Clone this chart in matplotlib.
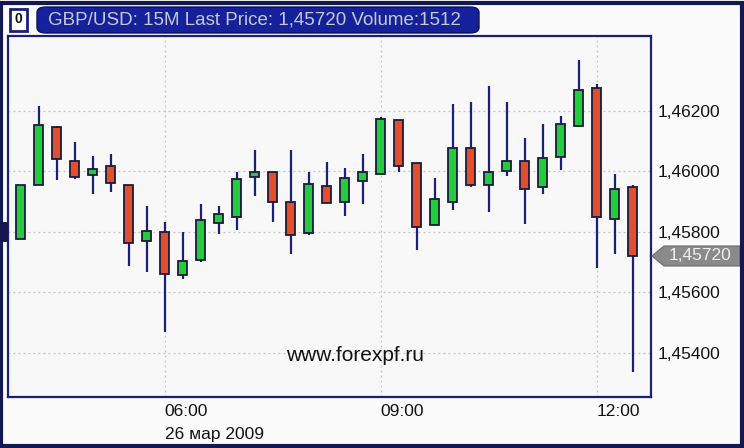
import pandas as pd
import matplotlib.pyplot as plt
from matplotlib.patches import FancyBboxPatch, Rectangle, Polygon

# 15-minute GBP/USD candles, 26 Mar 2009
times = pd.date_range('2009-03-26 04:00', periods=35, freq='15min')
opens = [1.45776, 1.45954, 1.46147, 1.46035, 1.45987, 1.46017, 1.45954, 1.45768, 1.45798, 1.45656,
         1.45707, 1.45829, 1.45849, 1.45981, 1.45996, 1.45897, 1.45795, 1.45951, 1.45900, 1.45967,
         1.45992, 1.46168, 1.46028, 1.45821, 1.45900, 1.46076, 1.45953, 1.46000, 1.46035, 1.45947,
         1.46046, 1.46149, 1.46274, 1.45841, 1.45949]
highs = [1.45954, 1.46216, 1.46150, 1.46097, 1.46049, 1.46056, 1.45954, 1.45885, 1.45831, 1.45800,
         1.45892, 1.45885, 1.45997, 1.46070, 1.45996, 1.46070, 1.45996, 1.46030, 1.46011, 1.46057,
         1.46179, 1.46168, 1.46028, 1.45978, 1.46221, 1.46229, 1.46281, 1.46229, 1.46110, 1.46156,
         1.46182, 1.46368, 1.46289, 1.45990, 1.45955]
lows = [1.45776, 1.45954, 1.45971, 1.45973, 1.45925, 1.45932, 1.45687, 1.45668, 1.45469, 1.45643,
        1.45701, 1.45792, 1.45805, 1.45918, 1.45832, 1.45726, 1.45789, 1.45894, 1.45853, 1.45892,
        1.45987, 1.45997, 1.45740, 1.45821, 1.45872, 1.45948, 1.45865, 1.45984, 1.45826, 1.45926,
        1.46004, 1.46145, 1.45680, 1.45726, 1.45337]
closes = [1.45954, 1.46154, 1.46040, 1.45980, 1.46008, 1.45960, 1.45763, 1.45803, 1.45662, 1.45705,
          1.45838, 1.45858, 1.45975, 1.45996, 1.45900, 1.45789, 1.45957, 1.45894, 1.45977, 1.45996,
          1.46174, 1.46018, 1.45815, 1.45909, 1.46076, 1.45953, 1.45996, 1.46035, 1.45940, 1.46043,
          1.46155, 1.46267, 1.45848, 1.45942, 1.45720]
price_ticks = [1.454, 1.456, 1.458, 1.460, 1.462]
time_ticks = ['06:00', '09:00', '12:00']
date_label = '26 мар 2009'
last_price = 1.45720
volume = 1512

navy = '#1a1f78'
up_color = '#22cc3a'
down_color = '#e0502c'
font = ['Liberation Sans', 'DejaVu Sans']

fig = plt.figure(figsize=(7.44, 4.48), dpi=100)
fig.patch.set_facecolor('#fbfbfb')
W, H = 744, 448
ax = fig.add_axes([8 / W, 1 - 397 / H, 643 / W, 361 / H])
ax.set_facecolor('#f8f8f8')

x = list(range(len(times)))
ax.vlines(x, lows, highs, color=navy, lw=1.6, zorder=2)
colors = [up_color if c >= o else down_color for o, c in zip(opens, closes)]
bottoms = [min(o, c) for o, c in zip(opens, closes)]
heights = [max(abs(c - o), 0.00003) for o, c in zip(opens, closes)]
ax.bar(x, heights, bottom=bottoms, width=0.5, color=colors,
       edgecolor='#1a1a40', linewidth=1.3, zorder=3)

ax.set_xlim(-0.7, 35.0)
ax.set_ylim(1.45254, 1.46447)

tick_pos = [i for i, t in enumerate(times) if t.strftime('%H:%M') in time_ticks]
ax.set_xticks(tick_pos)
ax.set_xticklabels(time_ticks, ha='left', fontsize=12.5, family=font, color='#111111')
ax.tick_params(axis='x', length=0, pad=5)
ax.set_yticks(price_ticks)
ax.yaxis.tick_right()
ax.yaxis.set_major_formatter(plt.FuncFormatter(lambda v, p: f'{v:.5f}'.replace('.', ',')))
ax.tick_params(axis='y', length=0, pad=5, labelsize=12.5, labelcolor='#111111')
for lbl in ax.get_yticklabels():
    lbl.set_family(font)
ax.grid(True, color='#c4c4c4', linestyle=(0, (1.5, 2.5)), linewidth=0.9)
ax.set_axisbelow(True)
for s in ax.spines.values():
    s.set_color(navy)
    s.set_linewidth(1.6)

ax.text(tick_pos[0], -0.082, date_label, transform=ax.get_xaxis_transform(),
        ha='left', va='top', fontsize=12.5, family=font, color='#111111')
ax.text(0.54, 0.115, 'www.forexpf.ru', transform=ax.transAxes, ha='center', va='center',
        fontsize=15, family=font, color='#111111')

# current price tag
yp = ax.transData.transform((0, last_price))[1]
yf = yp / fig.bbox.height
hh = 10 / H
tag = Polygon([(652 / W, yf), (664 / W, yf + hh), (740 / W, yf + hh), (740 / W, yf - hh),
               (664 / W, yf - hh)], closed=True, transform=fig.transFigure,
              facecolor='#8a8a8a', edgecolor='#6a6a6a', lw=0.8)
fig.patches.append(tag)
fig.text(700 / W, yf, f'{last_price:.5f}'.replace('.', ','), ha='center', va='center',
         fontsize=12.5, family=font, color='#eeeeee')

# header bar
bar = FancyBboxPatch((37 / W, 1 - 33 / H), 442 / W, 26 / H,
                     boxstyle='round,pad=0,rounding_size=0.012', transform=fig.transFigure,
                     facecolor='#14219a', edgecolor='#0c145c', lw=1)
fig.patches.append(bar)
fig.text(48 / W, 1 - 20 / H, f'GBP/USD: 15M Last Price: {last_price:.5f}'.replace('.', ',')
         + f' Volume:{volume}', ha='left', va='center', fontsize=13.5, family=font, color='#c8c8d8')
icon = Rectangle((10 / W, 1 - 31 / H), 17 / W, 22 / H, transform=fig.transFigure,
                 facecolor='white', edgecolor=navy, lw=2)
fig.patches.append(icon)
fig.text(18.5 / W, 1 - 19 / H, '0', ha='center', va='center', fontsize=10, family=font,
         color='#111111', weight='bold')

# outer frame
frame = Rectangle((0.002, 0.004), 0.995, 0.99, transform=fig.transFigure,
                  facecolor='none', edgecolor='#141850', lw=3)
fig.patches.append(frame)
# small marker at left edge
fig.patches.append(Rectangle((3 / W, 1 - 242 / H), 5 / W, 20 / H, transform=fig.transFigure,
                             facecolor='#141850', edgecolor='none'))

plt.savefig('out.png', dpi=100)
plt.close()
